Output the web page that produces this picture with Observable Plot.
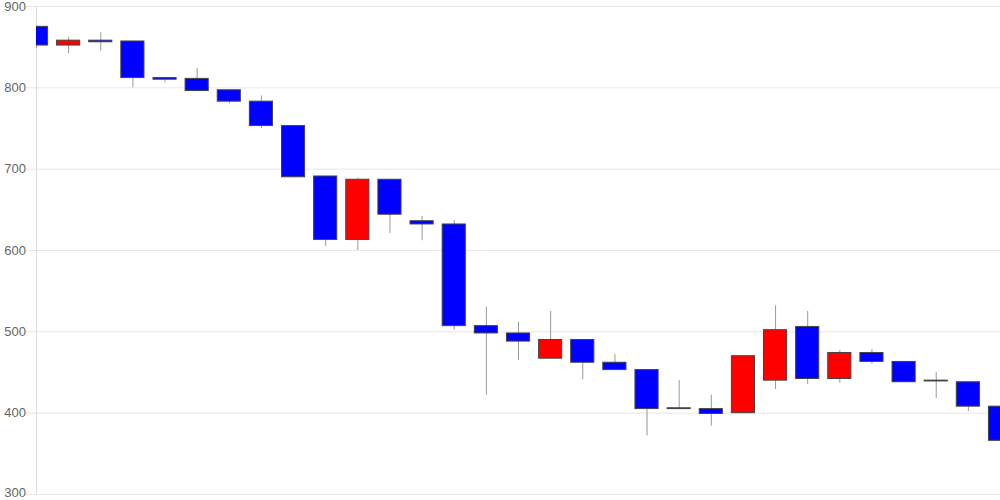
<!DOCTYPE html>
<html>
<head>
<meta charset="utf-8">
<script src="https://cdn.jsdelivr.net/npm/d3@7"></script>
<script src="https://cdn.jsdelivr.net/npm/@observablehq/plot@0.6"></script>
<style>
  html, body { margin: 0; padding: 0; background: #fff; }
  #chart svg { display: block; }
</style>
</head>
<body>
<div id="chart"></div>
<script>
const opens  = [875, 852, 858, 857, 812, 811, 797, 783, 753, 691, 613, 687, 636, 632, 507, 498, 467, 490, 462, 453, 406, 405, 400, 440, 506, 442, 474, 463, 439, 438, 408];
const highs  = [876, 862, 868, 857, 812, 824, 797, 790, 753, 691, 689, 687, 642, 637, 530, 512, 525, 490, 472, 453, 440, 422, 470, 532, 525, 477, 478, 463, 450, 438, 408];
const lows   = [848, 842, 845, 800, 806, 796, 780, 750, 690, 605, 600, 621, 612, 502, 422, 465, 467, 441, 453, 372, 405, 384, 400, 429, 435, 437, 460, 438, 418, 402, 366];
const closes = [852, 858, 856, 812, 810, 796, 783, 753, 690, 613, 687, 644, 632, 507, 498, 488, 490, 462, 453, 405, 405, 399, 470, 502, 442, 474, 463, 438, 440, 408, 366];
const yTicks = [300, 400, 500, 600, 700, 800, 900];

const data = opens.map((o, i) => ({
  i, open: o, high: highs[i], low: lows[i], close: closes[i],
  color: closes[i] >= o ? "#ff0000" : "#0000ff"
}));

const labelOpts = { y: d => d, text: d => String(d), frameAnchor: "left", textAnchor: "end", dx: -10.5, fill: "#666", fontSize: 13 };

const chart = Plot.plot({
  width: 1000,
  height: 500,
  marginLeft: 36,
  marginRight: 0,
  marginTop: 6,
  marginBottom: 6,
  style: { fontFamily: "'Liberation Sans', Arial, sans-serif", fontSize: "13px", background: "#fff" },
  x: { domain: [0, data.length - 1], axis: null },
  y: { domain: [300, 900], axis: null },
  color: { type: "identity" },
  marks: [
    Plot.gridY(yTicks, { stroke: "#e6e6e6", strokeOpacity: 1 }),
    Plot.axisY(yTicks, { tickSize: 10, tickFormat: () => "", stroke: "#e6e6e6", strokeOpacity: 1, label: null }),
    Plot.text(yTicks.filter(t => t !== 300), labelOpts),
    Plot.text([300], { ...labelOpts, dy: -2 }),
    Plot.ruleX([0], { stroke: "#dcdcdc" }),
    Plot.ruleX(data, { x: "i", y1: "low", y2: "high", stroke: "#999", strokeWidth: 1, clip: true }),
    Plot.rect(data, {
      x1: d => d.i - 0.36, x2: d => d.i + 0.36,
      y1: "open", y2: "close",
      fill: "color", stroke: "#444", strokeWidth: 1, clip: true
    })
  ]
});
document.getElementById("chart").append(chart);
</script>
</body>
</html>
